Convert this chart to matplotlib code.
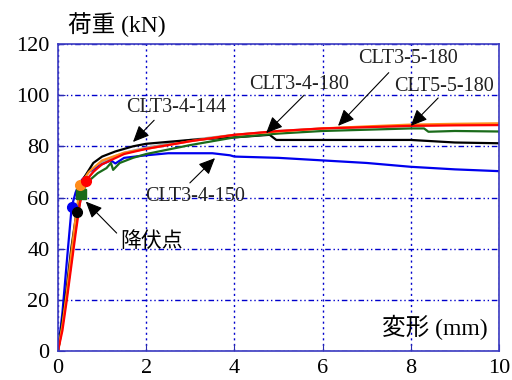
import matplotlib.pyplot as plt

# load-displacement curves (mm, kN)
disp_144 = [0, 0.1, 0.2, 0.3, 0.42, 0.5, 0.6, 0.8, 1.0, 1.3, 1.7, 2.0, 3.0, 4.0, 4.8, 4.95, 6.0, 8.0, 9.0, 10.0]
load_144 = [0, 12, 25, 40, 54.2, 62, 68, 73.5, 76, 78, 80, 81, 82.5, 83.5, 84.5, 82.5, 82.5, 82.5, 81.5, 81.2]

disp_150 = [0, 0.1, 0.2, 0.31, 0.4, 0.5, 0.7, 1.0, 1.2, 1.3, 1.5, 2.0, 2.5, 3.5, 3.9, 4.0, 5.0, 6.0, 7.0, 8.0, 9.0, 10.0]
load_150 = [0, 15, 35, 56.4, 62, 66, 70, 73, 74.5, 73.3, 75.5, 76.5, 77.3, 77.3, 76.5, 76, 75.5, 74.5, 73.5, 72, 71, 70.3]

disp_green = [0, 0.1, 0.2, 0.3, 0.4, 0.52, 0.7, 0.9, 1.1, 1.2, 1.25, 1.4, 1.7, 2.0, 3.0, 4.0, 5.0, 6.0, 7.0, 8.0, 8.3, 8.4, 9.0, 10.0]
load_green = [0, 10, 22, 35, 48, 61.4, 66.5, 69.5, 71.5, 73.5, 70.8, 73.5, 75.5, 77, 80.5, 83.5, 85, 86, 86.5, 87, 87, 85.7, 86, 85.8]

disp_orange = [0, 0.1, 0.2, 0.3, 0.4, 0.5, 0.7, 1.0, 1.5, 2.0, 3.0, 4.0, 5.0, 6.0, 7.0, 8.0, 9.0, 10.0]
load_orange = [0, 10, 23, 38, 52, 65, 70, 74.5, 77.5, 79, 82, 84.5, 85.8, 87, 87.8, 88.5, 88.8, 89]

disp_red = [0, 0.1, 0.2, 0.3, 0.4, 0.5, 0.63, 0.8, 1.0, 1.5, 2.0, 3.0, 4.0, 5.0, 6.0, 7.0, 8.0, 9.0, 10.0]
load_red = [0, 8, 20, 33, 46, 58, 66.5, 70, 73, 77, 79, 82, 84.5, 86, 87, 87.5, 88, 88.2, 88.3]

disp_gray = [0, 0.2, 0.4, 0.6, 1.0, 1.5, 2.0, 3.0, 4.0, 5.0, 6.0, 7.0, 8.0, 9.0, 10.0]
load_gray = [0, 22, 50, 66, 74, 77.5, 79.5, 82.5, 84.5, 86, 87, 87.5, 88, 88.5, 88.7]

# yield points
yield_x = [0.31, 0.42, 0.52, 0.5, 0.63]
yield_y = [56.4, 54.2, 61.4, 65, 66.5]
yield_colors = ["#0000ee", "black", "#1a6b1a", "#ff8c1a", "#ff0000"]
yield_markers = ["o", "o", "s", "o", "o"]

# specimen labels: (text, text pos, arrow tail, arrow tip)
labels = [
    ("CLT3-4-144", (2.68, 95.0), (2.18, 90.2), (1.70, 81.7)),
    ("CLT3-4-150", (3.11, 60.2), (2.99, 65.7), (3.56, 75.4)),
    ("CLT3-4-180", (5.46, 104.0), (5.58, 100.0), (4.72, 85.2)),
    ("CLT3-5-180", (7.94, 114.5), (7.50, 108.8), (6.35, 88.0)),
    ("CLT5-5-180", (8.75, 103.2), (8.62, 98.9), (8.00, 88.0)),
]

serif = "Liberation Serif"
cjk = ["Liberation Serif", "Noto Sans CJK JP"]

fig = plt.figure(figsize=(5.12, 3.80), dpi=100)
ax = fig.add_axes([0.1133, 0.0763, 0.8613, 0.8079])

lw = 1.6
ax.plot(disp_gray, load_gray, color="#a0a0a0", lw=lw)
ax.plot(disp_150, load_150, color="#0000ee", lw=lw)
ax.plot(disp_144, load_144, color="black", lw=lw)
ax.plot(disp_green, load_green, color="#1a6b1a", lw=lw)
ax.plot(disp_orange, load_orange, color="#ff8c1a", lw=lw)
ax.plot(disp_red, load_red, color="#ff0000", lw=lw)

for x, y, c, m in zip(yield_x, yield_y, yield_colors, yield_markers):
    ax.plot(x, y, marker=m, color=c, markersize=7, zorder=5)

arrow = dict(arrowstyle="-|>,head_length=1.0,head_width=0.45", color="black",
             lw=0.8, shrinkA=0, shrinkB=0)
for text, pos, tail, tip in labels:
    ax.text(pos[0], pos[1], text, family=serif, fontsize=14.5, color="#222222",
            ha="center", va="center")
    ax.annotate("", xy=tip, xytext=tail, arrowprops=arrow)

ax.text(2.13, 42.6, "降伏点", family=cjk, fontsize=15, ha="center", va="center")
ax.annotate("", xy=(0.63, 58.4), xytext=(1.33, 46.1), arrowprops=arrow)

ax.set_xlim(0, 10)
ax.set_ylim(0, 120)
ax.set_xticks([0, 2, 4, 6, 8, 10])
ax.set_yticks([0, 20, 40, 60, 80, 100, 120])
ax.tick_params(direction="in", length=5, color="#2a2ab0", labelsize=16, pad=6)
for lab in ax.get_xticklabels() + ax.get_yticklabels():
    lab.set_family(serif)

for spine in ax.spines.values():
    spine.set_color("#3a3ac0")
    spine.set_linewidth(1.2)

ax.xaxis.grid(True, color="#0000cc", linestyle=(0, (1.5, 2.5)), lw=1.0)
ax.yaxis.grid(True, color="#0000cc", linestyle=(0, (4, 2, 1, 2, 1, 2)), lw=1.0)
ax.set_axisbelow(True)

fig.text(0.133, 1 - 25 / 380, "荷重 (kN)", family=cjk, fontsize=17, ha="left", va="center")
ax.text(8.55, 9.4, "変形 (mm)", family=cjk, fontsize=17, ha="center", va="center")

fig.savefig("out.png", dpi=100)
